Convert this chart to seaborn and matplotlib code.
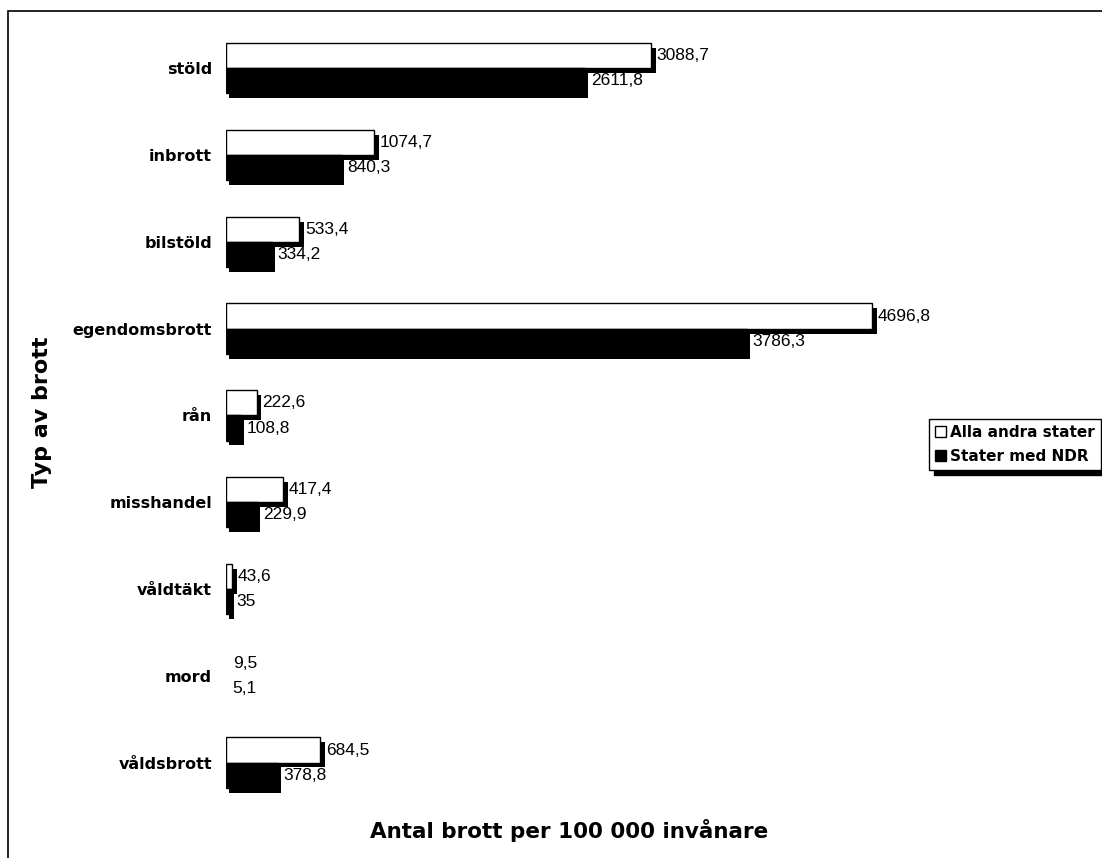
import matplotlib as mpl
mpl.use('agg')
import matplotlib.pyplot as plt
import matplotlib.patheffects as pe
from matplotlib.patches import Patch, Rectangle
import pandas as pd
import seaborn as sns

# data
brott = ['stöld', 'inbrott', 'bilstöld', 'egendomsbrott', 'rån',
         'misshandel', 'våldtäkt', 'mord', 'våldsbrott']
alla_andra = [3088.7, 1074.7, 533.4, 4696.8, 222.6, 417.4, 43.6, 9.5, 684.5]
med_ndr = [2611.8, 840.3, 334.2, 3786.3, 108.8, 229.9, 35, 5.1, 378.8]
grupper = ['Alla andra stater', 'Stater med NDR']

df = pd.DataFrame({
    'brott': brott * 2,
    'antal': alla_andra + med_ndr,
    'grupp': [grupper[0]] * len(brott) + [grupper[1]] * len(brott),
})

sns.set_style('white')
plt.rcParams['font.family'] = ['Liberation Sans', 'DejaVu Sans']
plt.rcParams['text.color'] = 'black'
plt.rcParams['ytick.color'] = 'black'
bold = ['DejaVu Sans']

fig = plt.figure(figsize=(11.02, 8.58), dpi=100)
ax = fig.add_axes([0.205, 0.0606, 0.749, 0.9104])

sns.barplot(data=df, y='brott', x='antal', hue='grupp', orient='h',
            palette={grupper[0]: 'white', grupper[1]: 'black'},
            edgecolor='black', linewidth=1, width=0.58, dodge=True,
            legend=False, ax=ax)

# drop shadows on bars (tiny bars are not visible in the original)
for i, cont in enumerate(ax.containers):
    off = (3.5, -3.5) if i == 0 else (2, -3.5)
    for p in cont:
        if p.get_width() < 20:
            p.set_linewidth(0)
            p.set_alpha(0)
            continue
        p.set_path_effects([pe.SimplePatchShadow(offset=off, shadow_rgbFace='black', alpha=1),
                            pe.Normal()])

# value labels, Swedish decimal comma
for cont in ax.containers:
    labels = [f'{r.get_width():g}'.replace('.', ',') for r in cont]
    ax.bar_label(cont, labels=labels, padding=4, fontsize=12.5)

ax.set_xlim(0, 6000)
ax.set_xticks([])
ax.set_xlabel('')
ax.set_ylabel('')
ax.tick_params(axis='y', length=0, pad=10)
for t in ax.get_yticklabels():
    t.set_fontweight('bold')
    t.set_family(bold)
    t.set_fontsize(11.5)
sns.despine(ax=ax, left=True, bottom=True)

fig.text(569 / 1102, 1 - 830 / 858, 'Antal brott per 100 000 invånare', ha='center', va='center',
         fontsize=15.5, fontweight='bold', family=bold)
fig.text(42 / 1102, 1 - 412 / 858, 'Typ av brott', ha='center', va='center', rotation=90,
         fontsize=16, fontweight='bold', family=bold)

handles = [Patch(facecolor='white', edgecolor='black'), Patch(facecolor='black', edgecolor='black')]
fig.legend(handles, grupper, loc='upper left', bbox_to_anchor=(0.843, 0.512),
           frameon=True, fancybox=False, edgecolor='black', framealpha=1,
           shadow={'ox': 3.5, 'oy': -3.5, 'color': 'black', 'alpha': 1},
           prop={'weight': 'bold', 'size': 11, 'family': bold}, handlelength=0.7, handleheight=0.7,
           handletextpad=0.3, borderpad=0.4, labelspacing=0.6, borderaxespad=0)

# outer chart frame
fig.add_artist(Rectangle((8 / 1102, -0.1), 1.2, 1.1 - 11 / 858, transform=fig.transFigure,
                         fill=False, edgecolor='black', lw=1.2))

plt.savefig('out.png', dpi=100)
